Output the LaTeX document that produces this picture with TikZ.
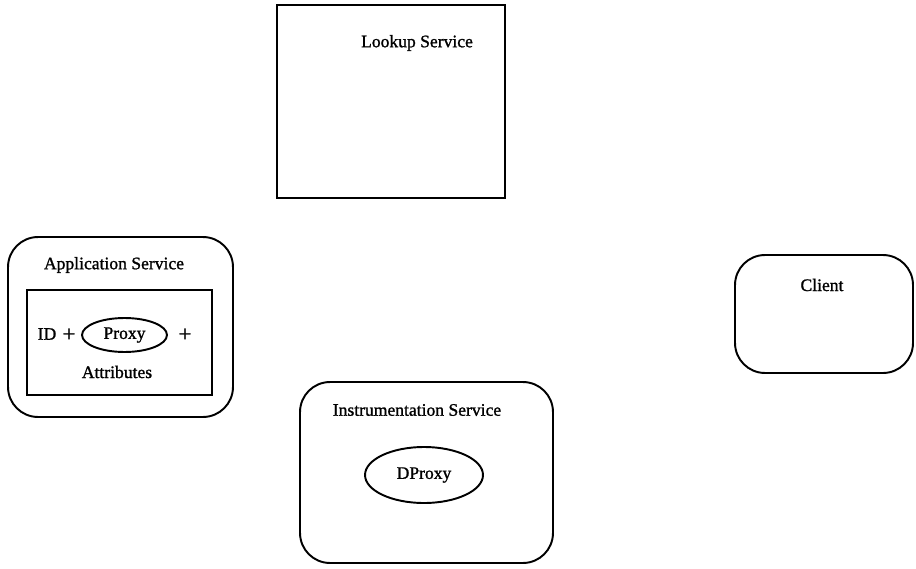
\documentclass[tikz,border=0pt]{standalone}
\usepackage{fontspec}
\setmainfont{Liberation Serif}
\newfontfamily\labelfont{Liberation Serif}[FakeBold=1.2]
\usetikzlibrary{shapes.geometric}

\begin{document}
\begin{tikzpicture}[x=0.02cm,y=-0.02cm,
		box/.style={draw, line width=1.1pt, inner sep=0pt},
		service/.style={box, rounded corners=0.6cm},
		proxy/.style={draw, line width=1.1pt, ellipse, inner sep=0pt},
		lbl/.style={font=\labelfont\fontsize{10}{12}\selectfont},
		sign/.style={font=\labelfont\fontsize{13}{14}\selectfont}]
			\useasboundingbox (0,0) rectangle (916,568);
			% lookup service
			\node[box, minimum width=4.56cm, minimum height=3.86cm] (lookup) at (391,101.5) {};
			\node[lbl] (lookuplbl) at (417,43) {Lookup Service};
			% application service with its entry
			\node[service, minimum width=4.5cm, minimum height=3.6cm] (app) at (120.5,327) {};
			\node[lbl] (applbl) at (114,265) {Application Service};
			\node[box, minimum width=3.7cm, minimum height=2.1cm] (entry) at (119.5,342.5) {};
			\node[proxy, minimum width=1.7cm, minimum height=0.68cm, lbl] (proxy) at (124.5,335) {Proxy};
			\node[lbl] (id) at (47,334) {ID};
			\node[sign] (plusa) at (69,335) {+};
			\node[sign] (plusb) at (185,335) {+};
			\node[lbl] (attr) at (117,372) {Attributes};
			% instrumentation service
			\node[service, minimum width=5.06cm, minimum height=3.62cm] (instr) at (426.5,472.5) {};
			\node[lbl] (instrlbl) at (417,410) {Instrumentation Service};
			\node[proxy, minimum width=2.36cm, minimum height=1.12cm, lbl] (dproxy) at (424,475) {DProxy};
			% client
			\node[service, minimum width=3.56cm, minimum height=2.36cm] (client) at (824,314) {};
			\node[lbl] (clientlbl) at (822,285) {Client};
		\end{tikzpicture}
\end{document}
